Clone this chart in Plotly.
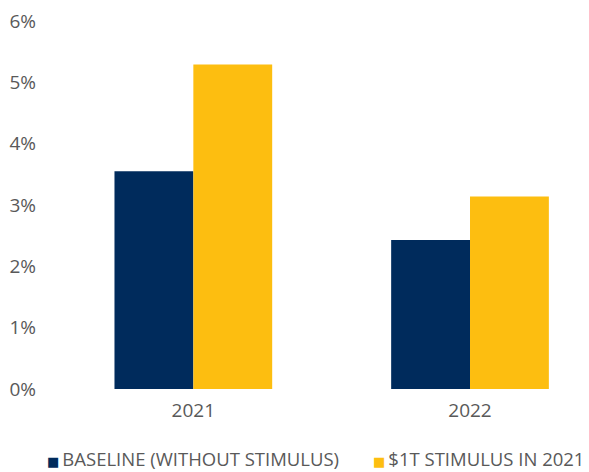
import plotly.graph_objects as go

years = ["2021", "2022"]
baseline = [3.55, 2.43]
stimulus = [5.29, 3.14]
y_ticks = [0, 1, 2, 3, 4, 5, 6]
y_labels = ["0%", "1%", "2%", "3%", "4%", "5%", "6%"]
series_names = ["BASELINE (WITHOUT STIMULUS)", "$1T STIMULUS IN 2021"]

NAVY = "#002B5C"
GOLD = "#FDBE10"
GREY = "#595959"

fig = go.Figure()
fig.add_trace(go.Bar(x=years, y=baseline, name=series_names[0],
                     marker=dict(color=NAVY, line=dict(width=0))))
fig.add_trace(go.Bar(x=years, y=stimulus, name=series_names[1],
                     marker=dict(color=GOLD, line=dict(width=0))))

# custom legend: small square + label, like the original
for name, color, shift in [(series_names[0], NAVY, -10), (series_names[1], GOLD, 316)]:
    fig.add_annotation(
        text=f"<span style='font-family:DejaVu Sans;font-size:13px;color:{color}'>■</span>\u2009{name}",
        xref="paper", yref="paper", x=0, y=-0.19,
        xanchor="left", yanchor="middle", xshift=shift,
        showarrow=False, font=dict(size=18.5, color=GREY),
    )

fig.update_layout(
    width=589, height=472,
    barmode="group",
    bargap=0.43,
    bargroupgap=0,
    showlegend=False,
    plot_bgcolor="white",
    paper_bgcolor="white",
    font=dict(family="Open Sans", color=GREY, size=17),
    margin=dict(l=47, r=0, t=13, b=91),
    xaxis=dict(
        type="category",
        range=[-0.5, 1.459],
        showgrid=False, zeroline=False, showline=False,
        tickfont=dict(size=19),
        ticklabelstandoff=8,
    ),
    yaxis=dict(
        range=[0, 6],
        tickvals=y_ticks,
        ticktext=y_labels,
        showgrid=False, zeroline=False, showline=False,
        tickfont=dict(size=19),
        ticklabelstandoff=18,
        ticklabeloverflow="allow",
        automargin=False,
    ),
)

fig.write_html("out.html")
